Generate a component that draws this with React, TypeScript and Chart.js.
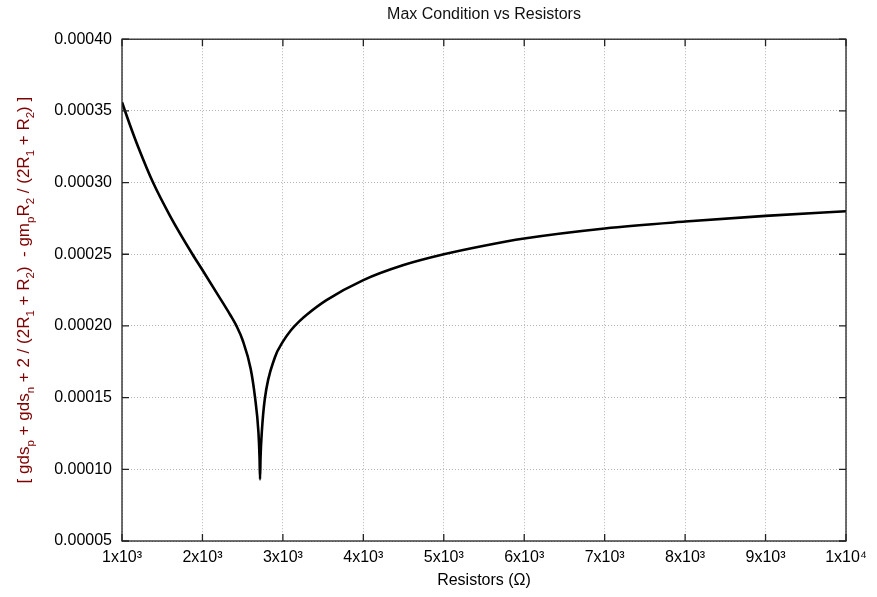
import React, { useEffect, useRef } from "react";
import { Chart, registerables } from "chart.js";

Chart.register(...registerables);

const TITLE = "Max Condition vs Resistors";
const X_TITLE = "Resistors (Ω)";

// Resistance values (Ω)
const resistance = [
  1000, 1100, 1200, 1386, 1600, 1876, 2000, 2200, 2350, 2423, 2500, 2600,
  2654, 2696, 2710, 2716, 2722, 2738, 2775, 2900, 3000, 3100, 3200, 3300,
  3542, 4000, 4500, 5000, 5500, 6000, 7000, 8000, 9000, 10000,
];
// Max condition values
const condition = [
  0.000356, 0.00034, 0.000325, 0.0003, 0.0002765, 0.00025, 0.000239, 0.000221,
  0.0002073, 0.0002, 0.00019, 0.00017, 0.00015, 0.000126, 0.000108, 0.000093,
  0.000108, 0.000126, 0.000149, 0.000178, 0.000189, 0.000197, 0.000203,
  0.000208, 0.000218, 0.000232, 0.0002425, 0.00025, 0.000256, 0.000261,
  0.000268, 0.0002728, 0.0002768, 0.00028,
];

const xMin = 1000;
const xMax = 10000;
const xStep = 1000;
const yMin = 0.00005;
const yMax = 0.0004;
const yStep = 0.00005;

// y-axis label pieces: [text, isSubscript]
const yTitleParts: [string, boolean][] = [
  ["[ gds", false], ["p", true], [" + gds", false], ["n", true],
  [" + 2 / (2R", false], ["1", true], [" + R", false], ["2", true],
  [")  - gm", false], ["p", true], ["R", false], ["2", true],
  [" / (2R", false], ["1", true], [" + R", false], ["2", true], [") ]", false],
];

const FONT = "'Liberation Sans', Arial, Helvetica, sans-serif";
const SUP: Record<string, string> = { "0": "⁰", "1": "¹", "2": "²", "3": "³", "4": "⁴", "5": "⁵", "6": "⁶", "7": "⁷", "8": "⁸", "9": "⁹" };

function sciLabel(v: number): string {
  if (v <= 0) return String(v);
  const e = Math.floor(Math.log10(v) + 1e-9);
  const m = Math.round(v / Math.pow(10, e));
  return `${m}x10${String(e).split("").map((c) => SUP[c] || c).join("")}`;
}

const framePlugin = {
  id: "frameTicks",
  afterDatasetsDraw(chart: any) {
    const { ctx, chartArea, scales } = chart;
    const { left, right, top, bottom } = chartArea;
    ctx.save();
    ctx.strokeStyle = "#222";
    ctx.lineWidth = 1.3;
    ctx.strokeRect(left, top, right - left, bottom - top);
    const len = 7;
    ctx.beginPath();
    scales.x.ticks.forEach((t: any) => {
      const px = scales.x.getPixelForValue(t.value);
      ctx.moveTo(px, bottom);
      ctx.lineTo(px, bottom - len);
      ctx.moveTo(px, top);
      ctx.lineTo(px, top + len);
    });
    scales.y.ticks.forEach((t: any) => {
      const py = scales.y.getPixelForValue(t.value);
      ctx.moveTo(left, py);
      ctx.lineTo(left + len, py);
      ctx.moveTo(right, py);
      ctx.lineTo(right - len, py);
    });
    ctx.stroke();
    ctx.restore();
  },
};

const yTitlePlugin = {
  id: "yTitleRich",
  afterDraw(chart: any) {
    const { ctx, chartArea } = chart;
    const mainFont = `17px ${FONT}`;
    const subFont = `11.5px ${FONT}`;
    ctx.save();
    let total = 0;
    const widths = yTitleParts.map(([t, sub]) => {
      ctx.font = sub ? subFont : mainFont;
      const w = ctx.measureText(t).width;
      total += w;
      return w;
    });
    const cy = (chartArea.top + chartArea.bottom) / 2;
    ctx.translate(29, cy);
    ctx.rotate(-Math.PI / 2);
    ctx.fillStyle = "#7f0000";
    ctx.textBaseline = "alphabetic";
    ctx.textAlign = "left";
    let x = -total / 2;
    yTitleParts.forEach(([t, sub], i) => {
      ctx.font = sub ? subFont : mainFont;
      ctx.fillText(t, x, sub ? 4.5 : 0);
      x += widths[i];
    });
    ctx.restore();
  },
};

export default function App() {
  const canvasRef = useRef<HTMLCanvasElement | null>(null);

  useEffect(() => {
    const canvas = canvasRef.current;
    if (!canvas) return;
    Chart.defaults.font.family = FONT;
    Chart.defaults.color = "#000";
    const points = resistance.map((r, i) => ({ x: r, y: condition[i] }));
    const chart = new Chart(canvas, {
      type: "line",
      data: {
        datasets: [
          {
            label: "Max condition",
            data: points,
            borderColor: "#000",
            borderWidth: 2.6,
            pointRadius: 0,
            fill: false,
            cubicInterpolationMode: "monotone",
          },
        ],
      },
      plugins: [framePlugin, yTitlePlugin],
      options: {
        responsive: false,
        animation: false,
        layout: { padding: { left: 0, right: 31, top: 0, bottom: 0 } },
        plugins: {
          legend: { display: false },
          tooltip: { enabled: false },
          title: {
            display: true,
            text: TITLE,
            fullSize: false,
            color: "#111",
            font: { size: 16, weight: "normal", family: FONT, lineHeight: 1.2 },
            padding: { top: 5, bottom: 15 },
          },
        },
        scales: {
          x: {
            type: "linear",
            min: xMin,
            max: xMax,
            afterFit: (s: any) => {
              s.height = 56;
            },
            ticks: {
              stepSize: xStep,
              autoSkip: false,
              maxRotation: 0,
              padding: 7,
              color: "#000",
              font: { size: 16, family: FONT },
              callback: (v: any) => sciLabel(Number(v)),
            },
            grid: { color: "#b5b5b5", lineWidth: 1, drawTicks: false },
            border: { display: false, dash: [1, 2] },
            title: {
              display: true,
              text: X_TITLE,
              color: "#000",
              font: { size: 16, family: FONT, lineHeight: 1.2 },
              padding: { top: 4, bottom: 7 },
            },
          },
          y: {
            type: "linear",
            min: yMin,
            max: yMax,
            afterFit: (s: any) => {
              s.width = 122;
            },
            ticks: {
              stepSize: yStep,
              padding: 10,
              color: "#000",
              font: { size: 16, family: FONT },
              callback: (v: any) => Number(v).toFixed(5),
            },
            grid: { color: "#b5b5b5", lineWidth: 1, drawTicks: false },
            border: { display: false, dash: [1, 2] },
          },
        },
      },
    } as any);
    return () => chart.destroy();
  }, []);

  return (
    <div style={{ position: "fixed", left: 0, top: 0, width: 877, height: 597, background: "#fff" }}>
      <canvas ref={canvasRef} width={877} height={597} style={{ width: 877, height: 597, display: "block" }} />
    </div>
  );
}
